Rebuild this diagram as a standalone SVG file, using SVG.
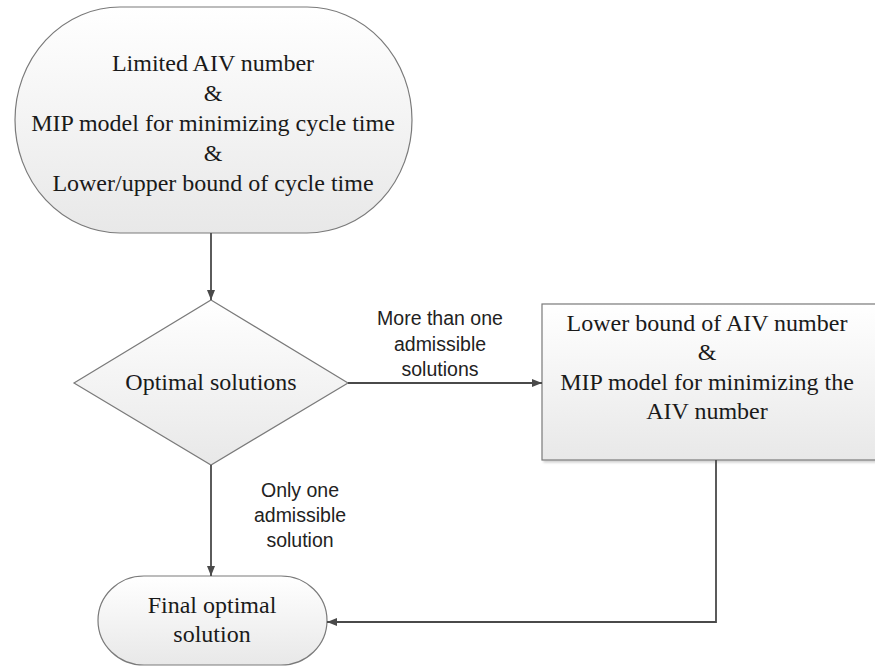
<svg xmlns="http://www.w3.org/2000/svg" width="875" height="666" viewBox="0 0 875 666">
<defs>
<linearGradient id="g" x1="0" y1="0" x2="0" y2="1">
<stop offset="0" stop-color="#ffffff"/>
<stop offset="1" stop-color="#e8e8e8"/>
</linearGradient>
<marker id="ah" viewBox="0 0 10 10" refX="10" refY="5" markerWidth="10" markerHeight="10" markerUnits="userSpaceOnUse" orient="auto">
<path d="M0,1 L10,5 L0,9 z" fill="#4a4a4a"/>
</marker>
<filter id="sh" x="-5%" y="-5%" width="112%" height="112%">
<feDropShadow dx="2" dy="2" stdDeviation="1" flood-color="#000" flood-opacity="0.18"/>
</filter>
</defs>
<style>
.shape{fill:url(#g);stroke:#7a7a7a;stroke-width:1.2}
.t{font-family:"Liberation Serif","Times New Roman",serif;font-size:24px;fill:#1a1a1a;text-anchor:middle}
.l{font-family:"Liberation Sans",Arial,sans-serif;font-size:19.5px;fill:#222;text-anchor:middle}
.c{fill:none;stroke:#4a4a4a;stroke-width:1.8}
</style>
<g id="start">
<rect class="shape" x="15" y="7" width="397" height="226" rx="105" ry="113"/>
<text class="t" x="213" y="71">Limited AIV number</text>
<text class="t" x="213" y="101">&amp;</text>
<text class="t" x="213" y="131">MIP model for minimizing cycle time</text>
<text class="t" x="213" y="161">&amp;</text>
<text class="t" x="213" y="191">Lower/upper bound of cycle time</text>
</g>
<g id="decision">
<polygon class="shape" points="211,300 348,383 211,465 74,383"/>
<text class="t" x="211" y="390">Optimal solutions</text>
</g>
<g id="process">
<rect class="shape" x="542" y="304" width="345" height="156" filter="url(#sh)"/>
<text class="t" x="707" y="331">Lower bound of AIV number</text>
<text class="t" x="707" y="360">&amp;</text>
<text class="t" x="707" y="390">MIP model for minimizing the</text>
<text class="t" x="707" y="419">AIV number</text>
</g>
<g id="end">
<rect class="shape" x="98" y="576" width="229" height="89" rx="46" ry="44.5"/>
<text class="t" x="212" y="613">Final optimal</text>
<text class="t" x="212" y="642">solution</text>
</g>
<g id="connectors">
<path class="c" d="M211,233 V300" marker-end="url(#ah)"/>
<path class="c" d="M348,383 H542" marker-end="url(#ah)"/>
<path class="c" d="M211,465 V576" marker-end="url(#ah)"/>
<path class="c" d="M716,460 V622 H327" marker-end="url(#ah)"/>
<text class="l" x="440" y="325">More than one</text>
<text class="l" x="440" y="351">admissible</text>
<text class="l" x="440" y="376">solutions</text>
<text class="l" x="300" y="497">Only one</text>
<text class="l" x="300" y="522">admissible</text>
<text class="l" x="300" y="547">solution</text>
</g>
</svg>
